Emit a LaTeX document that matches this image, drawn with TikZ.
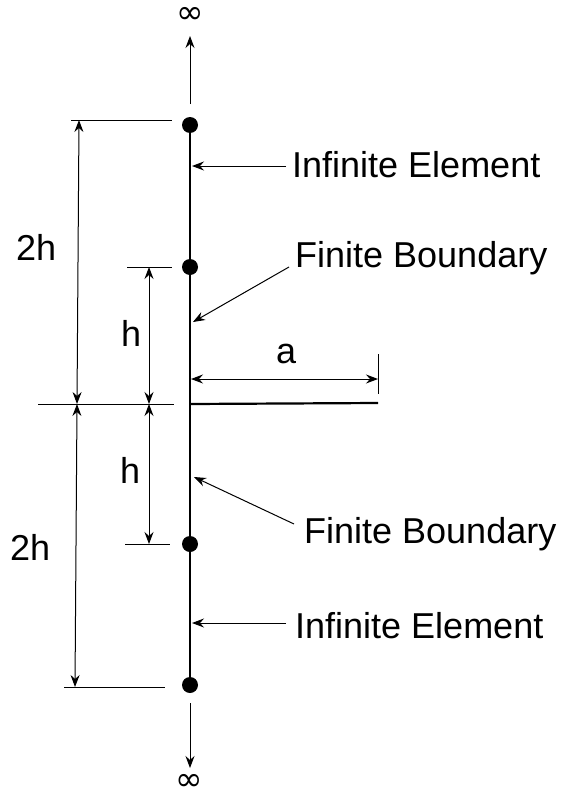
\documentclass[tikz,border=0pt]{standalone}
\usepackage{fontspec}
\setmainfont{Liberation Sans}
\newfontfamily\symfont{DejaVu Sans}
\usetikzlibrary{arrows.meta, positioning}
\definecolor{ink}{HTML}{000000}
\tikzset{
  beam/.style  = {line width=2.2pt, ink},
  joint/.style = {circle, fill=ink, inner sep=0pt, minimum size=16pt},
  arr/.style   = {-{Stealth[length=12pt, width=9pt, inset=4pt]}, line width=1pt, ink},
  dim/.style   = {{Stealth[length=12pt, width=9pt, inset=4pt]}-{Stealth[length=12pt, width=9pt, inset=4pt]},
                  line width=1pt, ink},
  ext/.style   = {line width=0.9pt, ink},
  labl/.style  = {font=\fontsize{36}{40}\selectfont, text=ink, inner sep=0pt, anchor=base west},
  inf/.style   = {font=\symfont\fontsize{33}{36}\selectfont, text=ink, inner sep=0pt},
}
\begin{document}
\begin{tikzpicture}[x=1pt, y=-1pt]
  \useasboundingbox (0,0) rectangle (563,795);

  % points on the boundary
  \coordinate (pA) at (190,125);
  \coordinate (pB) at (190,267);
  \coordinate (pM) at (190,404);
  \coordinate (pC) at (190,544);
  \coordinate (pD) at (190,685);
  \coordinate (pR) at (378,403);

  \draw[beam] (pA) -- (pD);
  \draw[beam] (pM) -- (pR);

  % joints
  \node[joint] (jA) at (pA) {};
  \node[joint] (jB) at (pB) {};
  \node[joint] (jC) at (pC) {};
  \node[joint] (jD) at (pD) {};

  % towards infinity
  \coordinate (upStart) at (190,104);
  \coordinate (upTip)   at (190,36);
  \coordinate (dnStart) at (190,703);
  \coordinate (dnTip)   at (190,768);
  \draw[arr] (upStart) -- (upTip);
  \draw[arr] (dnStart) -- (dnTip);
  \node[inf, above=12pt of upTip] (infTop) {∞};
  \node[inf, below=6pt of dnTip, xshift=-1pt] (infBot) {∞};

  % extension lines
  \draw[ext] (71,120) -- (172,120);
  \draw[ext] (127,267) -- (172,267);
  \draw[ext] (38,404) -- (174,404);
  \draw[ext] (125,544) -- (170,544);
  \draw[ext] (64,687) -- (165,687);
  \draw[ext] (378,354) -- (378,394);

  % dimensions 2h
  \coordinate (twoA) at (79,120);
  \coordinate (twoB) at (77,404);
  \coordinate (twoC) at (75,687);
  \draw[dim] (twoA) -- (twoB);
  \draw[dim] (twoB) -- (twoC);

  % dimensions h
  \coordinate (oneA) at (149,267);
  \coordinate (oneB) at (149,404);
  \coordinate (oneC) at (149,544);
  \draw[dim] (oneA) -- (oneB);
  \draw[dim] (oneB) -- (oneC);

  % dimension a
  \coordinate (aA) at (191,379);
  \coordinate (aB) at (378,379);
  \draw[dim] (aA) -- (aB);

  % dimension labels
  \node[labl] (lTwoA) at (16,260) {2h};
  \node[labl] (lTwoB) at (10,560) {2h};
  \node[labl] (lOneA) at (121,346) {h};
  \node[labl] (lOneB) at (120,483) {h};
  \node[labl] (lA)    at (276,363) {a};

  % element labels
  \node[labl] (ieTop) at (292,177) {Infinite Element};
  \node[labl] (fbTop) at (295,267) {Finite Boundary};
  \node[labl] (fbBot) at (304,543) {Finite Boundary};
  \node[labl] (ieBot) at (295,638) {Infinite Element};

  % leaders
  \coordinate (ieTopTail) at (286,166);
  \coordinate (ieTopTip)  at (192,166);
  \coordinate (fbTopTail) at (289,267);
  \coordinate (fbTopTip)  at (193,322);
  \coordinate (fbBotTail) at (294,524);
  \coordinate (fbBotTip)  at (194,477);
  \coordinate (ieBotTail) at (286,623);
  \coordinate (ieBotTip)  at (192,623);
  \draw[arr] (ieTopTail) -- (ieTopTip);
  \draw[arr] (fbTopTail) -- (fbTopTip);
  \draw[arr] (fbBotTail) -- (fbBotTip);
  \draw[arr] (ieBotTail) -- (ieBotTip);

\end{tikzpicture}
\end{document}
